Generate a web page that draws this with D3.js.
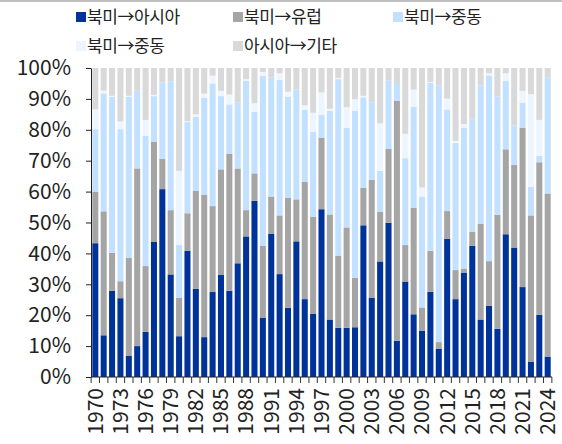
<!DOCTYPE html>
<html>
<head>
<meta charset="utf-8">
<script src="https://cdn.jsdelivr.net/npm/d3@7"></script>
<style>
  html, body { margin: 0; padding: 0; background: #fff; }
  svg { display: block; }
  text { font-family: "Noto Sans CJK KR", "Noto Sans", sans-serif; fill: #222; }
</style>
</head>
<body>
<svg id="chart" width="562" height="444"></svg>
<script>
// Years on the category axis
const years = d3.range(1970, 2025);

// Labelled years (every third)
const tickYears = d3.range(1970, 2025, 3);

// Y-axis tick values (%)
const yTicks = d3.range(0, 101, 10);

// Route shares per year (%), stacked bottom to top
const naAsia = [43.3,13.5,27.9,25.5,6.8,10.0,14.6,43.7,60.8,33.2,13.2,40.8,28.5,12.9,27.5,33.0,27.9,36.8,45.5,57.0,19.1,46.4,33.3,22.4,43.9,25.2,20.4,54.3,18.6,15.9,15.9,16.1,49.1,25.7,37.4,49.9,11.7,30.9,20.3,14.9,27.6,9.2,44.7,25.2,33.8,42.5,18.6,23.0,15.6,46.2,41.9,29.1,5.0,20.1,6.6];
const naEurope = [16.7,40.1,12.3,5.5,31.7,57.5,21.3,32.5,9.8,20.8,12.4,12.2,31.7,46.1,27.8,34.2,44.4,30.7,8.5,8.9,23.3,12.0,19.0,35.6,13.6,37.9,31.5,23.2,34.0,23.4,32.5,16.0,12.1,38.1,16.1,23.9,77.7,11.8,34.5,7.6,13.2,2.1,9.0,9.4,1.3,4.5,31.0,14.5,36.9,27.5,26.7,51.6,47.3,49.4,52.8];
const naMideast = [20.2,38.2,50.4,49.2,52.2,25.1,42.1,14.7,24.7,41.7,17.1,29.5,24.0,31.4,39.7,23.7,15.9,21.3,41.9,20.0,55.0,38.5,43.8,32.7,35.6,23.3,27.4,7.3,33.6,57.1,32.3,54.0,29.3,25.1,13.2,22.1,5.4,28.1,32.7,35.9,54.5,83.0,32.9,41.2,45.6,36.7,44.8,60.1,38.2,22.2,12.8,8.1,9.3,2.1,37.6];
const naMideast2 = [6.4,0.9,0.4,2.5,0.3,0,5.2,0.4,0,0,24.0,0.3,0.8,1.3,2.5,1.7,3.2,0,0.5,2.7,1.3,0,2.2,1.6,0,1.5,6.2,7.3,0.6,0.4,6.6,3.8,0.5,0,15.4,0,0,7.9,5.5,2.9,0.2,0,3.5,0.6,1.1,0,0,0.7,0,2.4,0,3.8,29.9,11.6,0];
const asiaOther = [13.4,7.3,9.0,17.3,9.0,7.4,16.8,8.7,4.7,4.3,33.3,17.2,15.0,8.3,2.5,7.4,8.6,11.2,3.6,11.4,1.3,3.1,1.7,7.7,6.9,12.1,14.5,7.9,13.2,3.2,12.7,10.1,9.0,11.1,17.9,4.1,5.2,21.3,7.0,38.7,4.5,5.7,9.9,23.6,18.2,16.3,5.6,1.7,9.3,1.7,18.6,7.4,8.5,16.8,3.0];

const seriesNames = ["북미→아시아", "북미→유럽", "북미→중동", "북미→중동", "아시아→기타"];
const seriesColors = ["#003399", "#a5a5a5", "#c2e0ff", "#edf5ff", "#d9d9d9"];
const seriesValues = [naAsia, naEurope, naMideast, naMideast2, asiaOther];

const keys = ["s0", "s1", "s2", "s3", "s4"];
const table = years.map((yr, i) => {
  const row = { year: yr };
  keys.forEach((k, j) => { row[k] = seriesValues[j][i]; });
  return row;
});

const svg = d3.select("#chart");

// Thin rule across the top edge
svg.append("rect").attr("x", 0).attr("y", 0).attr("width", 562).attr("height", 2).attr("fill", "#c0c0c0");

const x = d3.scaleBand()
  .domain(years)
  .range([91, 552])
  .paddingInner(0.28)
  .paddingOuter(0.155);

const y = d3.scaleLinear().domain([0, 100]).range([377, 68]);

const stacked = d3.stack().keys(keys)(table);

// Bars
svg.append("g").selectAll("g")
  .data(stacked)
  .join("g")
  .attr("fill", (d, i) => seriesColors[i])
  .selectAll("rect")
  .data(d => d)
  .join("rect")
  .attr("x", d => x(d.data.year))
  .attr("width", x.bandwidth())
  .attr("y", d => y(d[1]))
  .attr("height", d => Math.max(0, y(d[0]) - y(d[1])));

// Y axis
const yAxis = d3.axisLeft(y)
  .tickValues(yTicks)
  .tickFormat(d => d + "%")
  .tickSize(5)
  .tickSizeOuter(0)
  .tickPadding(15);
const gy = svg.append("g").attr("transform", "translate(91,0)").call(yAxis);
gy.select(".domain").attr("stroke", "#222");
gy.selectAll(".tick line").attr("stroke", "#222");
gy.selectAll(".tick text")
  .style("font-size", "21px")
  .style("font-family", "'Noto Sans CJK KR', 'Noto Sans', sans-serif")
  .attr("fill", "#222");

// X axis: line, ticks between bars, labels every third year
const step = x.step();
const gap = step - x.bandwidth();
const gx = svg.append("g");
gx.append("line")
  .attr("x1", 91).attr("x2", 552)
  .attr("y1", y(0)).attr("y2", y(0))
  .attr("stroke", "#222");
const tickXs = years.map(yr => x(yr) - gap / 2).concat([x(years[years.length - 1]) + x.bandwidth() + gap / 2]);
gx.selectAll("line.tk")
  .data(tickXs)
  .join("line")
  .attr("class", "tk")
  .attr("x1", d => d).attr("x2", d => d)
  .attr("y1", y(0)).attr("y2", y(0) + 6)
  .attr("stroke", "#333");
gx.selectAll("text")
  .data(tickYears)
  .join("text")
  .attr("transform", d => `translate(${x(d) + x.bandwidth() / 2},388) rotate(-90)`)
  .attr("text-anchor", "end")
  .attr("dy", "0.35em")
  .style("font-size", "21px")
  .text(d => d);

// Legend
const legendPos = [[76, 17], [233, 17], [393, 17], [76, 46], [233, 46]];
const lg = svg.append("g");
seriesNames.forEach((name, i) => {
  const [lx, ly] = legendPos[i];
  lg.append("rect")
    .attr("x", lx).attr("y", ly - 5)
    .attr("width", 10).attr("height", 10)
    .attr("fill", seriesColors[i]);
  lg.append("text")
    .attr("x", lx + 11).attr("y", ly)
    .attr("dy", "0.36em")
    .style("font-size", "17px")
    .style("letter-spacing", "-0.4px")
    .text(name);
});
</script>
</body>
</html>
